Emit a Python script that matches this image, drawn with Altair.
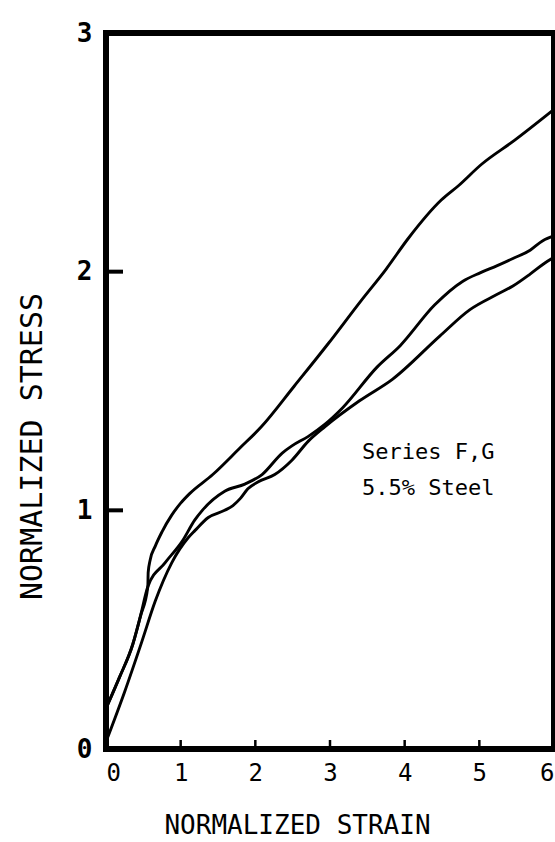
import altair as alt
import pandas as pd

# ---- data ----
strain_top = [0, 0.18, 0.36, 0.46, 0.56, 0.565, 0.59, 0.66, 0.75, 0.88, 1.0, 1.12, 1.43, 1.79, 2.08, 2.52, 2.98, 3.42, 3.75, 4.05, 4.49, 4.72, 5.03, 5.47, 5.92, 6.0]
stress_top = [0.17, 0.30, 0.44, 0.555, 0.68, 0.74, 0.79, 0.85, 0.91, 0.98, 1.03, 1.07, 1.15, 1.26, 1.35, 1.52, 1.70, 1.88, 2.01, 2.14, 2.30, 2.36, 2.45, 2.55, 2.66, 2.68]

strain_mid = [0, 0.18, 0.36, 0.46, 0.56, 0.79, 1.02, 1.19, 1.29, 1.59, 1.86, 2.09, 2.36, 2.49, 2.71, 2.93, 3.17, 3.63, 3.94, 4.40, 4.78, 5.01, 5.24, 5.45, 5.68, 5.85, 6.0]
stress_mid = [0.17, 0.30, 0.44, 0.555, 0.68, 0.78, 0.87, 0.96, 1.00, 1.08, 1.11, 1.15, 1.24, 1.27, 1.31, 1.36, 1.43, 1.60, 1.69, 1.86, 1.96, 1.995, 2.025, 2.055, 2.09, 2.13, 2.15]

strain_low = [0, 0.25, 0.48, 0.66, 0.88, 1.10, 1.19, 1.37, 1.59, 1.70, 1.80, 1.90, 2.04, 2.26, 2.49, 2.71, 2.93, 3.40, 3.84, 4.47, 4.87, 5.24, 5.45, 5.68, 5.85, 6.0]
stress_low = [0.03, 0.24, 0.45, 0.62, 0.78, 0.885, 0.915, 0.97, 1.00, 1.02, 1.05, 1.09, 1.12, 1.15, 1.21, 1.29, 1.35, 1.46, 1.55, 1.73, 1.84, 1.905, 1.94, 1.99, 2.03, 2.06]

x_ticks = [0, 1, 2, 3, 4, 5, 6]
y_ticks = [0, 1, 2, 3]
x_inner_ticks = [1, 2, 3, 4, 5]
y_inner_ticks = [1, 2]
note_lines = ["Series F,G", "5.5% Steel"]

W, H = 448, 716
MONO = "DejaVu Sans Mono"

rows = []
for name, xs, ys in [("top", strain_top, stress_top), ("mid", strain_mid, stress_mid), ("low", strain_low, stress_low)]:
    for i, (a, b) in enumerate(zip(xs, ys)):
        rows.append({"curve": name, "order": i, "strain": a, "stress": b})
df = pd.DataFrame(rows)

xs = alt.Scale(domain=[0, 6], nice=False, zero=False)
ys = alt.Scale(domain=[0, 3], nice=False, zero=False)

x_axis = alt.Axis(values=x_ticks, format="d", domain=False, ticks=False, grid=False,
                  labelFont=MONO, labelFontSize=24, labelColor="black", labelPadding=12,
                  title="NORMALIZED STRAIN", titleFont=MONO, titleFontSize=26,
                  titleFontWeight="normal", titleColor="black",
                  titleX=191, titleY=84, titleBaseline="alphabetic", titleAlign="center")
y_axis = alt.Axis(values=y_ticks, format="d", domain=False, ticks=False, grid=False,
                  labelFont=MONO, labelFontSize=26, labelFontWeight="bold", labelColor="black",
                  labelPadding=14,
                  title="NORMALIZED STRESS", titleFont=MONO, titleFontSize=30,
                  titleFontWeight="normal", titleColor="black",
                  titleX=-74, titleY=413, titleAngle=-90, titleBaseline="middle", titleAlign="center")

lines = alt.Chart(df).mark_line(color="black", strokeWidth=2.9, interpolate="monotone").encode(
    x=alt.X("strain:Q", scale=xs, axis=x_axis),
    y=alt.Y("stress:Q", scale=ys, axis=y_axis),
    detail="curve:N",
    order="order:Q",
)

xt = alt.Chart(pd.DataFrame({"t": x_inner_ticks})).mark_rule(color="black", strokeWidth=2.5).encode(
    x=alt.X("t:Q", scale=xs), y=alt.value(H), y2=alt.value(H - 9))
yt = alt.Chart(pd.DataFrame({"t": y_inner_ticks})).mark_rule(color="black", strokeWidth=4).encode(
    y=alt.Y("t:Q", scale=ys), x=alt.value(0), x2=alt.value(17))

note = alt.Chart(pd.DataFrame({"a": [0]})).mark_text(
    text=note_lines, font=MONO, fontSize=22, color="black", align="left",
    baseline="alphabetic", lineHeight=36).encode(
    x=alt.datum(3.43, scale=xs), y=alt.datum(1.215, scale=ys))

chart = alt.layer(lines, xt, yt, note).properties(
    width=W, height=H,
    autosize=alt.AutoSizeParams(type="none"),
    padding={"left": 106, "top": 33, "right": 1, "bottom": 93},
    background="white",
).configure_view(stroke="black", strokeWidth=6)

chart.save("out.html", embed_options={"renderer": "svg", "actions": False})
